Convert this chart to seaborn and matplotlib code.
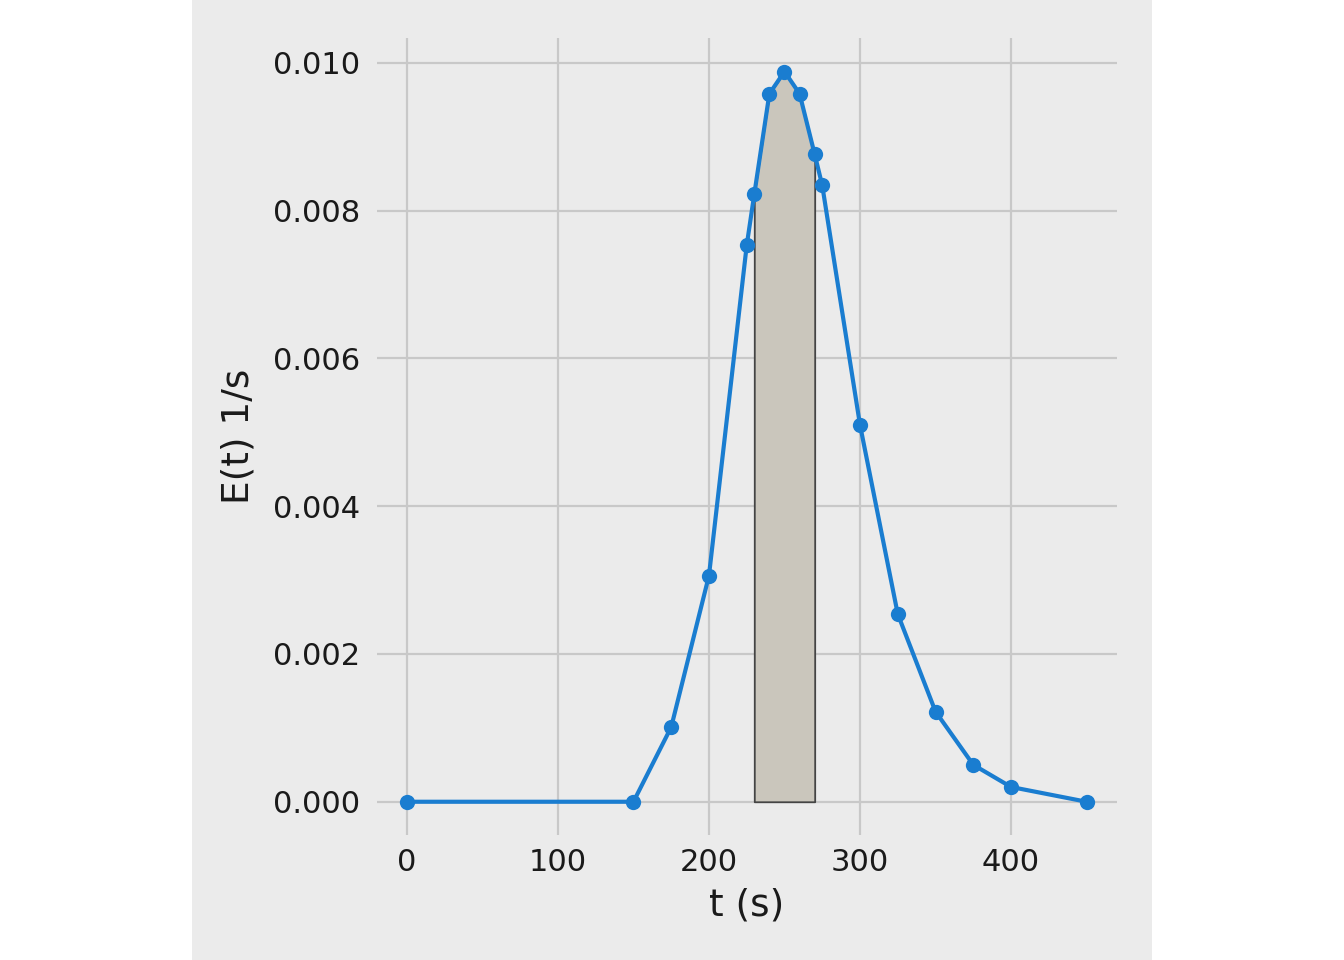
import numpy as np
import pandas as pd
import matplotlib
matplotlib.use("Agg")
import matplotlib.pyplot as plt
import seaborn as sns
from matplotlib.patches import Rectangle

# RTD data
t_s = [0, 150, 175, 200, 225, 230, 240, 250, 260, 270, 275, 300, 325, 350, 375, 400, 450]
e_t = [0.0, 0.0, 0.00101, 0.00306, 0.00753, 0.00822, 0.00958, 0.00988, 0.00958,
       0.00876, 0.00834, 0.00510, 0.00254, 0.00122, 0.00050, 0.00020, 0.0]
shade_from = 230
shade_to = 270

df = pd.DataFrame({"t": t_s, "E": e_t})

sns.set_style("whitegrid", {
    "axes.facecolor": "#ebebeb",
    "grid.color": "#c8c8c8",
    "axes.edgecolor": "#ebebeb",
})
plt.rcParams['font.family'] = ['DejaVu Sans']

fig = plt.figure(figsize=(13.44, 9.6), dpi=100, facecolor="white")
# grey figure panel in the middle
fig.patches.append(Rectangle((192 / 1344, 0), 960 / 1344, 1, transform=fig.transFigure,
                             facecolor="#ebebeb", edgecolor="none", zorder=-10))
ax = fig.add_axes([0.2803, 0.1302, 0.5506, 0.8299])

# shaded slice under the curve
sub = df[(df["t"] >= shade_from) & (df["t"] <= shade_to)]
ax.fill_between(sub["t"], 0, sub["E"], facecolor="#cac6bc", edgecolor="#444444",
                linewidth=1.3, zorder=2)

sns.lineplot(data=df, x="t", y="E", ax=ax, color="#1a7dd0", linewidth=3.0,
             marker="o", markersize=11, markeredgewidth=0, zorder=3)

ax.set_xlim(-20, 470)
ax.set_ylim(-0.00045, 0.01033)
ax.grid(True, linewidth=1.6, color="#c8c8c8")
for sp in ax.spines.values():
    sp.set_visible(False)
ax.tick_params(axis="both", length=0, labelsize=22, labelcolor="#1a1a1a")
ax.tick_params(axis="x", pad=9)
ax.tick_params(axis="y", pad=12)
ax.set_xticks([0, 100, 200, 300, 400])
ax.set_yticks([0.000, 0.002, 0.004, 0.006, 0.008, 0.010])
ax.yaxis.set_major_formatter(matplotlib.ticker.FormatStrFormatter("%.3f"))
ax.set_xlabel("t (s)", fontsize=27, color="#1a1a1a", labelpad=8)
ax.set_ylabel("E(t) 1/s", fontsize=27, color="#1a1a1a", labelpad=12)

fig.savefig("out.png", dpi=100, facecolor="white")
